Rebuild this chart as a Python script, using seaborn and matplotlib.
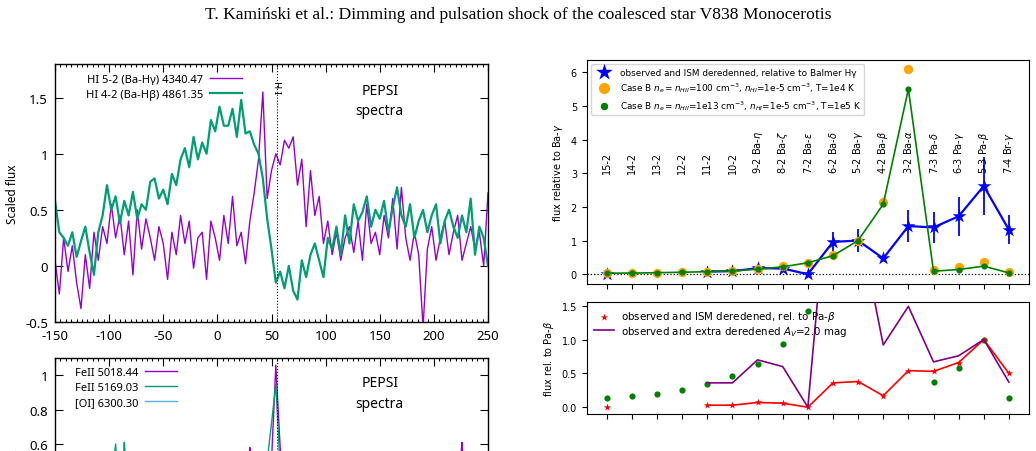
import numpy as np
import seaborn as sns
import matplotlib.pyplot as plt
from matplotlib.ticker import MultipleLocator, FormatStrFormatter

W, H = 1036, 452
nan = np.nan

# PEPSI spectra, velocity grid in km/s
velocity = np.arange(-150, 251, 4)

# top left panel
flux_hgamma = [0.05, -0.25, 0.25, -0.05, 0.18, -0.15, -0.38, 0.10, -0.20, 0.30,
               0.05, 0.35, 0.20, 0.55, 0.25, 0.45, 0.10, 0.40, -0.08, 0.50,
               0.15, 0.42, 0.25, 0.05, 0.35, 0.20, -0.12, 0.30, 0.10, 0.45,
               0.20, 0.40, -0.02, 0.25, 0.30, -0.12, 0.40, 0.25, 0.05, 0.45,
               0.20, 0.62, 0.18, 0.30, 0.02, 0.40, 0.65, 0.95, 1.55, 0.60,
               0.85, 1.00, 0.90, 1.12, 1.05, 1.15, 0.72, 0.95, 0.35, 0.85,
               0.45, 0.62, 0.20, 0.40, 0.10, 0.30, 0.05, 0.25, 0.35, 0.12,
               0.40, 0.05, 0.55, 0.20, 0.30, 0.10, 0.45, 0.25, 0.60, 0.15,
               0.70, 0.25, 0.05, 0.30, 0.10, -0.55, 0.15, 0.35, 0.05, 0.25,
               0.40, 0.10, 0.30, 0.45, 0.05, 0.20, 0.35, 0.15, 0.30, 0.00, 0.65]
flux_hbeta = [0.58, 0.30, 0.25, 0.18, 0.30, 0.08, 0.22, 0.35, 0.12, -0.08,
              0.30, 0.45, 0.72, 0.50, 0.62, 0.38, 0.58, 0.45, 0.66, 0.42,
              0.55, 0.50, 0.75, 0.78, 0.60, 0.68, 0.55, 0.82, 0.72, 0.95,
              1.05, 0.88, 1.15, 0.95, 1.10, 1.00, 1.30, 1.20, 1.42, 1.25,
              1.25, 1.40, 1.15, 1.48, 1.18, 1.20, 1.08, 1.00, 0.78, 0.42,
              0.15, -0.15, -0.05, -0.20, 0.00, -0.22, -0.30, 0.05, -0.10, 0.10,
              0.20, 0.05, -0.10, 0.25, 0.15, 0.35, 0.10, 0.45, 0.20, 0.55,
              0.40, 0.48, 0.62, 0.35, 0.50, 0.42, 0.58, 0.30, 0.52, 0.70,
              0.45, 0.35, 0.55, 0.25, 0.40, 0.50, 0.30, 0.45, 0.55, 0.20,
              0.40, 0.50, 0.35, 0.25, 0.45, 0.30, 0.60, 0.10, 0.35, 0.25, 0.00]

# bottom left panel (only the top of it is on the page)
flux_fe5018 = [0.15, 0.05, 0.25, 0.10, 0.20, 0.30, 0.12, 0.18, 0.05, 0.22,
               0.28, 0.10, 0.20, 0.35, 0.15, 0.25, 0.08, 0.30, 0.18, 0.12,
               0.25, 0.05, 0.20, 0.30, 0.15, 0.10, 0.28, 0.22, 0.12, 0.30,
               0.18, 0.08, 0.25, 0.35, 0.15, 0.20, 0.10, 0.30, 0.22, 0.15,
               0.25, 0.12, 0.30, 0.20, 0.35, 0.58, 0.20, 0.30, 0.25, 0.40,
               0.50, 1.06, 0.58, 0.30, 0.20, 0.35, 0.15, 0.25, 0.10, 0.30,
               0.20, 0.12, 0.28, 0.18, 0.05, 0.25, 0.15, 0.30, 0.10, 0.22,
               0.15, 0.28, 0.08, 0.20, 0.32, 0.12, 0.25, 0.18, 0.05, 0.22,
               0.30, 0.15, 0.20, 0.10, 0.25, 0.18, 0.32, 0.12, 0.20, 0.28,
               0.10, 0.22, 0.15, 0.30, 0.61, 0.20, 0.12, 0.25, 0.18, 0.08, 0.20]
flux_fe5169 = [0.20, 0.30, 0.15, 0.25, 0.35, 0.18, 0.28, 0.10, 0.32, 0.22,
               0.15, 0.30, 0.25, 0.38, 0.60, 0.20, 0.61, 0.28, 0.18, 0.32,
               0.22, 0.35, 0.15, 0.28, 0.20, 0.38, 0.25, 0.12, 0.30, 0.22,
               0.35, 0.18, 0.28, 0.40, 0.22, 0.15, 0.30, 0.25, 0.38, 0.20,
               0.28, 0.35, 0.18, 0.30, 0.42, 0.25, 0.35, 0.40, 0.30, 0.50,
               0.72, 0.95, 0.45, 0.35, 0.28, 0.20, 0.32, 0.15, 0.30, 0.22,
               0.35, 0.18, 0.25, 0.30, 0.12, 0.28, 0.20, 0.35, 0.15, 0.25,
               0.30, 0.18, 0.22, 0.35, 0.10, 0.28, 0.20, 0.32, 0.15, 0.25,
               0.18, 0.30, 0.22, 0.12, 0.28, 0.35, 0.20, 0.25, 0.15, 0.30,
               0.22, 0.28, 0.12, 0.25, 0.18, 0.32, 0.20, 0.15, 0.28, 0.22, 0.25]
flux_oi6300 = [0.05, 0.10, 0.02, 0.08, 0.12, 0.04, 0.09, 0.06, 0.11, 0.03,
               0.08, 0.05, 0.12, 0.07, 0.02, 0.10, 0.06, 0.09, 0.04, 0.11,
               0.06, 0.03, 0.09, 0.12, 0.05, 0.08, 0.02, 0.10, 0.07, 0.04,
               0.09, 0.06, 0.11, 0.03, 0.08, 0.12, 0.05, 0.07, 0.10, 0.15,
               0.12, 0.08, 0.14, 0.10, 0.16, 0.12, 0.18, 0.15, 0.22, 0.30,
               0.42, 0.52, 0.38, 0.25, 0.18, 0.12, 0.09, 0.06, 0.10, 0.04,
               0.08, 0.05, 0.11, 0.07, 0.03, 0.09, 0.06, 0.12, 0.04, 0.08,
               0.10, 0.05, 0.07, 0.12, 0.03, 0.09, 0.06, 0.11, 0.04, 0.08,
               0.05, 0.10, 0.07, 0.03, 0.09, 0.12, 0.06, 0.08, 0.04, 0.11,
               0.07, 0.05, 0.10, 0.06, 0.03, 0.09, 0.12, 0.05, 0.08, 0.04, 0.07]
v_sys = 55  # dotted line

# right panels: hydrogen line ratios
transitions = ['15-2', '14-2', '13-2', '12-2', '11-2', '10-2',
               '9-2 Ba-$\\eta$', '8-2 Ba-$\\zeta$', '7-2 Ba-$\\epsilon$',
               '6-2 Ba-$\\delta$', '5-2 Ba-$\\gamma$', '4-2 Ba-$\\beta$',
               '3-2 Ba-$\\alpha$', '7-3 Pa-$\\delta$', '6-3 Pa-$\\gamma$',
               '5-3 Pa-$\\beta$', '7-4 Br-$\\gamma$']
obs_hg = [0.02, nan, nan, nan, 0.08, 0.09, 0.18, 0.17, 0.0, 0.96, 1.0, 0.47,
          1.43, 1.39, 1.72, 2.62, 1.32]
obs_hg_err = [0.04, nan, nan, nan, 0.06, 0.05, 0.08, 0.07, 0.03, 0.3, 0.33,
              0.07, 0.47, 0.45, 0.57, 0.87, 0.43]
caseb_1e4 = [0.03, 0.04, 0.05, 0.06, 0.08, 0.11, 0.16, 0.23, 0.34, 0.56, 1.0,
             2.14, 6.08, 0.12, 0.2, 0.35, 0.06]
caseb_1e5 = [0.03, 0.035, 0.045, 0.06, 0.075, 0.1, 0.15, 0.22, 0.34, 0.55, 1.0,
             2.08, 5.5, 0.09, 0.14, 0.24, 0.04]
caseb_pab = [0.13, 0.16, 0.2, 0.26, 0.34, 0.46, 0.64, 0.93, 1.42, 2.3, 4.2,
             8.7, 23.0, 0.37, 0.58, 1.0, 0.14]
obs_pab = [0.01, nan, nan, nan, 0.03, 0.03, 0.07, 0.06, 0.0, 0.36, 0.38, 0.17,
           0.54, 0.53, 0.66, 1.0, 0.5]
dered_pab = [nan, nan, nan, nan, 0.36, 0.36, 0.70, 0.60, 0.0, 4.1, 2.8, 0.92,
             1.49, 0.67, 0.76, 1.0, 0.37]

GP_PURPLE = '#9400d3'
GP_GREEN = '#009e73'
GP_BLUE = '#56b4e9'

fig = plt.figure(figsize=(W / 100, H / 100), dpi=100)
fig.text(0.5, 1 - 15 / H,
         'T. Kamiński et al.: Dimming and pulsation shock of the coalesced star V838 Monocerotis',
         ha='center', va='center', family='Liberation Serif', fontsize=12.6)


def gnuplot_style(ax, ylim, ystep):
    ax.set_xlim(-150, 250)
    ax.set_ylim(*ylim)
    ax.xaxis.set_major_locator(MultipleLocator(50))
    ax.xaxis.set_minor_locator(MultipleLocator(5))
    ax.yaxis.set_major_locator(MultipleLocator(ystep))
    ax.xaxis.set_major_formatter(FormatStrFormatter('%g'))
    ax.yaxis.set_major_formatter(FormatStrFormatter('%g'))
    ax.tick_params(which='both', direction='in', top=True, right=True,
                   labelsize=9.5, labelfontfamily='Noto Sans', width=0.8)
    ax.tick_params(which='major', length=6, pad=5)
    ax.tick_params(which='minor', length=2.5)
    for s in ax.spines.values():
        s.set_linewidth(1.0)
    ax.axvline(v_sys, color='black', ls=':', lw=0.8)
    ax.set_ylabel('Scaled flux', family='Noto Sans', fontsize=8.5)


legend_kw = dict(loc='upper right', frameon=False, markerfirst=False,
                 handlelength=2.9, handletextpad=0.6, labelspacing=0.35,
                 prop={'family': 'Noto Sans', 'size': 8})

# ---- top left
ax1 = fig.add_axes([55 / W, 1 - 323 / H, 433 / W, 258 / H])
sns.lineplot(x=velocity, y=flux_hgamma, ax=ax1, color=GP_PURPLE, lw=1.0,
             estimator=None, label='HI 5-2 (Ba-H\u03b3) 4340.47')
sns.lineplot(x=velocity, y=flux_hbeta, ax=ax1, color=GP_GREEN, lw=1.6,
             estimator=None, label='HI 4-2 (Ba-H\u03b2) 4861.35')
gnuplot_style(ax1, (-0.5, 1.8), 0.5)
ax1.set_xlabel('')
ax1.text(150, 1.475, 'PEPSI\nspectra', ha='center', va='center',
         family='Noto Sans', fontsize=10, linespacing=1.5)
ax1.text(v_sys, 1.6, 'H I', rotation=-90, ha='center', va='center',
         family='Noto Sans', fontsize=7)
ax1.legend(bbox_to_anchor=(0.455, 1.0), borderaxespad=0.5, **legend_kw)

# ---- bottom left
ax2 = fig.add_axes([55 / W, 1 - 599.3 / H, 433 / W, 240 / H])
sns.lineplot(x=velocity, y=flux_fe5018, ax=ax2, color=GP_PURPLE, lw=1.0,
             estimator=None, label='FeII 5018.44')
sns.lineplot(x=velocity, y=flux_fe5169, ax=ax2, color=GP_GREEN, lw=1.0,
             estimator=None, label='FeII 5169.03')
sns.lineplot(x=velocity, y=flux_oi6300, ax=ax2, color=GP_BLUE, lw=1.0,
             estimator=None, label='[OI] 6300.30')
gnuplot_style(ax2, (-0.3, 1.1), 0.2)
ax2.tick_params(labelbottom=False)
ax2.text(150, 0.898, 'PEPSI\nspectra', ha='center', va='center',
         family='Noto Sans', fontsize=10, linespacing=1.5)
ax2.legend(bbox_to_anchor=(0.302, 1.0), borderaxespad=0.4, **legend_kw)

# ---- top right
pos = np.arange(len(transitions))
ax3 = fig.add_axes([586.7 / W, 1 - 285 / H, 442.3 / W, 224.3 / H])
ax3.errorbar(pos, obs_hg, yerr=obs_hg_err, fmt='none', ecolor='blue', elinewidth=1.3)
ax3.plot(pos, obs_hg, color='blue', lw=1.6)
sns.scatterplot(x=pos, y=obs_hg, ax=ax3, marker='*', s=110, color='blue',
                linewidth=0, zorder=3,
                label='observed and ISM deredenned, relative to Balmer H\u03b3')
sns.scatterplot(x=pos, y=caseb_1e4, ax=ax3, marker='o', s=45, color='orange',
                linewidth=0, zorder=4,
                label='Case B $n_e = n_{HII}$=100 cm$^{-3}$, $n_{HI}$=1e-5 cm$^{-3}$, T=1e4 K')
sns.lineplot(x=pos, y=caseb_1e5, ax=ax3, color='green', lw=1.2, zorder=5)
sns.scatterplot(x=pos, y=caseb_1e5, ax=ax3, marker='o', s=20, color='green',
                linewidth=0, zorder=6,
                label='Case B $n_e = n_{HII}$=1e13 cm$^{-3}$, $n_{HI}$=1e-5 cm$^{-3}$, T=1e5 K')
ax3.axhline(0, color='black', ls=':', lw=0.9)
for i, name in enumerate(transitions):
    ax3.text(i, 3.0, name, rotation=90, ha='center', va='bottom', fontsize=7)
ax3.set_xlim(-0.8, len(transitions) - 0.2)
ax3.set_ylim(-0.29, 6.37)
ax3.set_xticks(pos)
ax3.set_xticklabels([])
ax3.tick_params(labelsize=7)
ax3.set_ylabel('flux relative to Ba-$\\gamma$', fontsize=7)
ax3.legend(loc='upper left', fontsize=6.4, handletextpad=0.8, labelspacing=0.4,
           markerscale=1.2)

# ---- bottom right
ax4 = fig.add_axes([586.7 / W, 1 - 415 / H, 442.3 / W, 111.7 / H])
sns.scatterplot(x=pos, y=caseb_pab, ax=ax4, marker='o', s=20, color='green',
                linewidth=0, zorder=2)
ax4.plot(pos, obs_pab, color='red', lw=1.2, zorder=3)
sns.scatterplot(x=pos, y=obs_pab, ax=ax4, marker='*', s=30, color='red',
                linewidth=0, zorder=4,
                label='observed and ISM deredened, rel. to Pa-$\\beta$')
sns.lineplot(x=pos[4:], y=dered_pab[4:], ax=ax4, color='purple', lw=1.2,
             zorder=5, label='observed and extra deredened $A_V$=2.0 mag')
ax4.set_xlim(-0.8, len(transitions) - 0.2)
ax4.set_ylim(-0.1, 1.55)
ax4.set_xticks(pos)
ax4.set_xticklabels([])
ax4.set_yticks([0.0, 0.5, 1.0, 1.5])
ax4.tick_params(labelsize=7)
ax4.set_ylabel('flux rel. to Pa-$\\beta$', fontsize=7)
ax4.legend(loc='upper left', fontsize=7.4, frameon=False, handletextpad=0.6,
           labelspacing=0.05, borderaxespad=0.3)

fig.savefig('out.png', dpi=100)
